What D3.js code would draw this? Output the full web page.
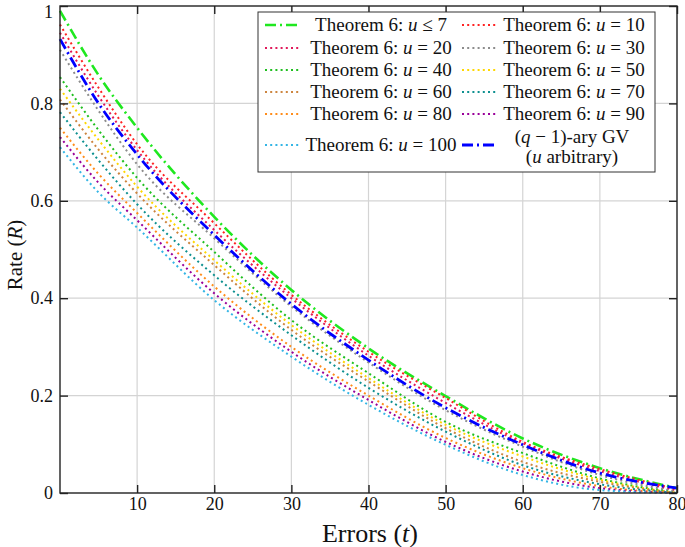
<!DOCTYPE html>
<html>
<head>
<meta charset="utf-8">
<script src="https://cdn.jsdelivr.net/npm/d3@7"></script>
<style>
  html, body { margin: 0; padding: 0; background: #fff; }
  svg { display: block; font-family: "Liberation Serif", "DejaVu Serif", serif; }
</style>
</head>
<body>
<svg id="chart" width="685" height="547"></svg>
<script>
// errors t at which the curves were read
var errors = [0, 5, 10, 20, 30, 40, 50, 60, 70, 80];

// rate values
var thm_u7   = [0.990, 0.858, 0.750, 0.567, 0.417, 0.297, 0.199, 0.112, 0.051, 0.010];
var thm_u10  = [0.962, 0.832, 0.716, 0.554, 0.407, 0.290, 0.195, 0.105, 0.049, 0.008];
var thm_u20  = [0.945, 0.815, 0.704, 0.540, 0.400, 0.282, 0.185, 0.102, 0.045, 0.005];
var thm_u30  = [0.910, 0.785, 0.675, 0.523, 0.383, 0.268, 0.170, 0.095, 0.037, 0.003];
var thm_u40  = [0.854, 0.745, 0.647, 0.495, 0.355, 0.246, 0.146, 0.082, 0.030, 0.000];
var thm_u50  = [0.830, 0.725, 0.629, 0.478, 0.345, 0.236, 0.140, 0.075, 0.027, 0.000];
var thm_u60  = [0.808, 0.705, 0.615, 0.468, 0.335, 0.229, 0.133, 0.064, 0.023, 0.000];
var thm_u70  = [0.782, 0.683, 0.593, 0.447, 0.324, 0.216, 0.126, 0.057, 0.018, 0.000];
var thm_u80  = [0.750, 0.655, 0.575, 0.424, 0.300, 0.200, 0.113, 0.051, 0.014, 0.000];
var thm_u90  = [0.731, 0.637, 0.560, 0.410, 0.290, 0.191, 0.105, 0.044, 0.010, 0.000];
var thm_u100 = [0.710, 0.617, 0.545, 0.396, 0.280, 0.181, 0.099, 0.037, 0.006, 0.000];
var gv_qm1   = [0.932, 0.800, 0.695, 0.530, 0.388, 0.273, 0.175, 0.099, 0.041, 0.010];

var xTicks = [10, 20, 30, 40, 50, 60, 70, 80];
var yTicks = [0, 0.2, 0.4, 0.6, 0.8, 1];

(function() {

var series = [
  { u: "\u2264 7", vals: thm_u7,   color: "#1fe81f", dash: "11,4,2,4", width: 2.6 },
  { u: "= 10",  vals: thm_u10,  color: "#ff2222", dash: "2,3.2", width: 2 },
  { u: "= 20",  vals: thm_u20,  color: "#e0195a", dash: "2,3.2", width: 2 },
  { u: "= 30",  vals: thm_u30,  color: "#8c8c8c", dash: "2,3.2", width: 2 },
  { u: "= 40",  vals: thm_u40,  color: "#1fbf1f", dash: "2,3.2", width: 2 },
  { u: "= 50",  vals: thm_u50,  color: "#ffd700", dash: "2,3.2", width: 2 },
  { u: "= 60",  vals: thm_u60,  color: "#cd853f", dash: "2,3.2", width: 2 },
  { u: "= 70",  vals: thm_u70,  color: "#0e9090", dash: "2,3.2", width: 2 },
  { u: "= 80",  vals: thm_u80,  color: "#ff8c1a", dash: "2,3.2", width: 2 },
  { u: "= 90",  vals: thm_u90,  color: "#990099", dash: "2,3.2", width: 2 },
  { u: "= 100", vals: thm_u100, color: "#33b5e5", dash: "2,3.2", width: 2 },
  { u: null,    vals: gv_qm1,   color: "#0000ff", dash: "11,4,2,4", width: 2.8 }
];

var svg = d3.select("#chart");
var mLeft = 60, mRight = 677, mTop = 6, mBottom = 493;

var x = d3.scaleLinear().domain([0, 80]).range([mLeft, mRight]);
var y = d3.scaleLinear().domain([0, 1]).range([mBottom, mTop]);

// grid
svg.append("g").selectAll("line").data(xTicks.slice(0, -1)).join("line")
  .attr("x1", d => x(d)).attr("x2", d => x(d))
  .attr("y1", mTop).attr("y2", mBottom)
  .attr("stroke", "#d4d4d4").attr("stroke-width", 1.2);
svg.append("g").selectAll("line").data(yTicks.slice(1, -1)).join("line")
  .attr("y1", d => y(d)).attr("y2", d => y(d))
  .attr("x1", mLeft).attr("x2", mRight)
  .attr("stroke", "#d4d4d4").attr("stroke-width", 1.2);

// curves
var line = d3.line()
  .x((d, i) => x(errors[i]))
  .y(d => y(d))
  .curve(d3.curveMonotoneX);

svg.append("g").selectAll("path").data(series).join("path")
  .attr("d", d => line(d.vals))
  .attr("fill", "none")
  .attr("stroke", d => d.color)
  .attr("stroke-width", d => d.width)
  .attr("stroke-dasharray", d => d.dash);

// axes box
svg.append("rect")
  .attr("x", mLeft).attr("y", mTop)
  .attr("width", mRight - mLeft).attr("height", mBottom - mTop)
  .attr("fill", "none").attr("stroke", "#222").attr("stroke-width", 1.4);

// ticks (inward, mirrored on top/right)
var axB = d3.axisBottom(x).tickValues(xTicks).tickSizeInner(-8).tickSizeOuter(0).tickPadding(7).tickFormat(d3.format("d"));
var axL = d3.axisLeft(y).tickValues(yTicks).tickSizeInner(-8).tickSizeOuter(0).tickPadding(7).tickFormat(d => d === 0 || d === 1 ? String(d) : d3.format(".1f")(d));
var axT = d3.axisTop(x).tickValues(xTicks).tickSizeInner(-8).tickSizeOuter(0).tickFormat("");
var axR = d3.axisRight(y).tickValues(yTicks).tickSizeInner(-8).tickSizeOuter(0).tickFormat("");

function styleAxis(g) {
  g.select(".domain").remove();
  g.selectAll(".tick line").attr("stroke", "#222").attr("stroke-width", 1.4);
  g.selectAll(".tick text").attr("fill", "#111").style("font-size", "18px")
    .style("font-family", "'Liberation Serif', serif");
}
svg.append("g").attr("transform", "translate(0," + mBottom + ")").call(axB).call(styleAxis)
  .selectAll(".tick text").attr("dy", "0.55em");
svg.append("g").attr("transform", "translate(" + mLeft + ",0)").call(axL).call(styleAxis)
  .selectAll(".tick text").filter(d => d === 1).attr("dy", "0.62em");
svg.append("g").attr("transform", "translate(0," + mTop + ")").call(axT).call(styleAxis);
svg.append("g").attr("transform", "translate(" + mRight + ",0)").call(axR).call(styleAxis);

// axis titles
var xt = svg.append("text").attr("x", 370).attr("y", 542).attr("text-anchor", "middle")
  .style("font-size", "26px").attr("fill", "#111");
xt.append("tspan").text("Errors (");
xt.append("tspan").style("font-style", "italic").text("t");
xt.append("tspan").text(")");

var yt = svg.append("text").attr("transform", "translate(22,255) rotate(-90)")
  .attr("text-anchor", "middle").style("font-size", "21px").attr("fill", "#111");
yt.append("tspan").text("Rate (");
yt.append("tspan").style("font-style", "italic").text("R");
yt.append("tspan").text(")");

// legend
var lg = svg.append("g");
lg.append("rect").attr("x", 258).attr("y", 12).attr("width", 397).attr("height", 160)
  .attr("fill", "#fff").attr("stroke", "#333").attr("stroke-width", 1);

var rowY = [25, 48, 70, 92, 114, 145];
series.forEach(function(s, i) {
  var col = i % 2, row = Math.floor(i / 2);
  var ly = rowY[row];
  var x0 = col === 0 ? 265 : 462;
  lg.append("line").attr("x1", x0).attr("x2", x0 + 34).attr("y1", ly).attr("y2", ly)
    .attr("stroke", s.color).attr("stroke-width", s.width).attr("stroke-dasharray", s.dash);
  var cx = col === 0 ? 381 : 574;
  if (s.u) {
    var t = lg.append("text").attr("x", cx).attr("y", ly + 6).attr("text-anchor", "middle")
      .style("font-size", "19px").attr("fill", "#111");
    t.append("tspan").text("Theorem 6: ");
    t.append("tspan").style("font-style", "italic").text("u");
    t.append("tspan").text(" " + s.u);
  } else {
    var t1 = lg.append("text").attr("x", 572).attr("y", 143).attr("text-anchor", "middle")
      .style("font-size", "19px").attr("fill", "#111");
    t1.append("tspan").text("(");
    t1.append("tspan").style("font-style", "italic").text("q");
    t1.append("tspan").text(" \u2212 1)-ary GV");
    var t2 = lg.append("text").attr("x", 572).attr("y", 163).attr("text-anchor", "middle")
      .style("font-size", "19px").attr("fill", "#111");
    t2.append("tspan").text("(");
    t2.append("tspan").style("font-style", "italic").text("u");
    t2.append("tspan").text(" arbitrary)");
  }
});

}());
</script>
</body>
</html>
